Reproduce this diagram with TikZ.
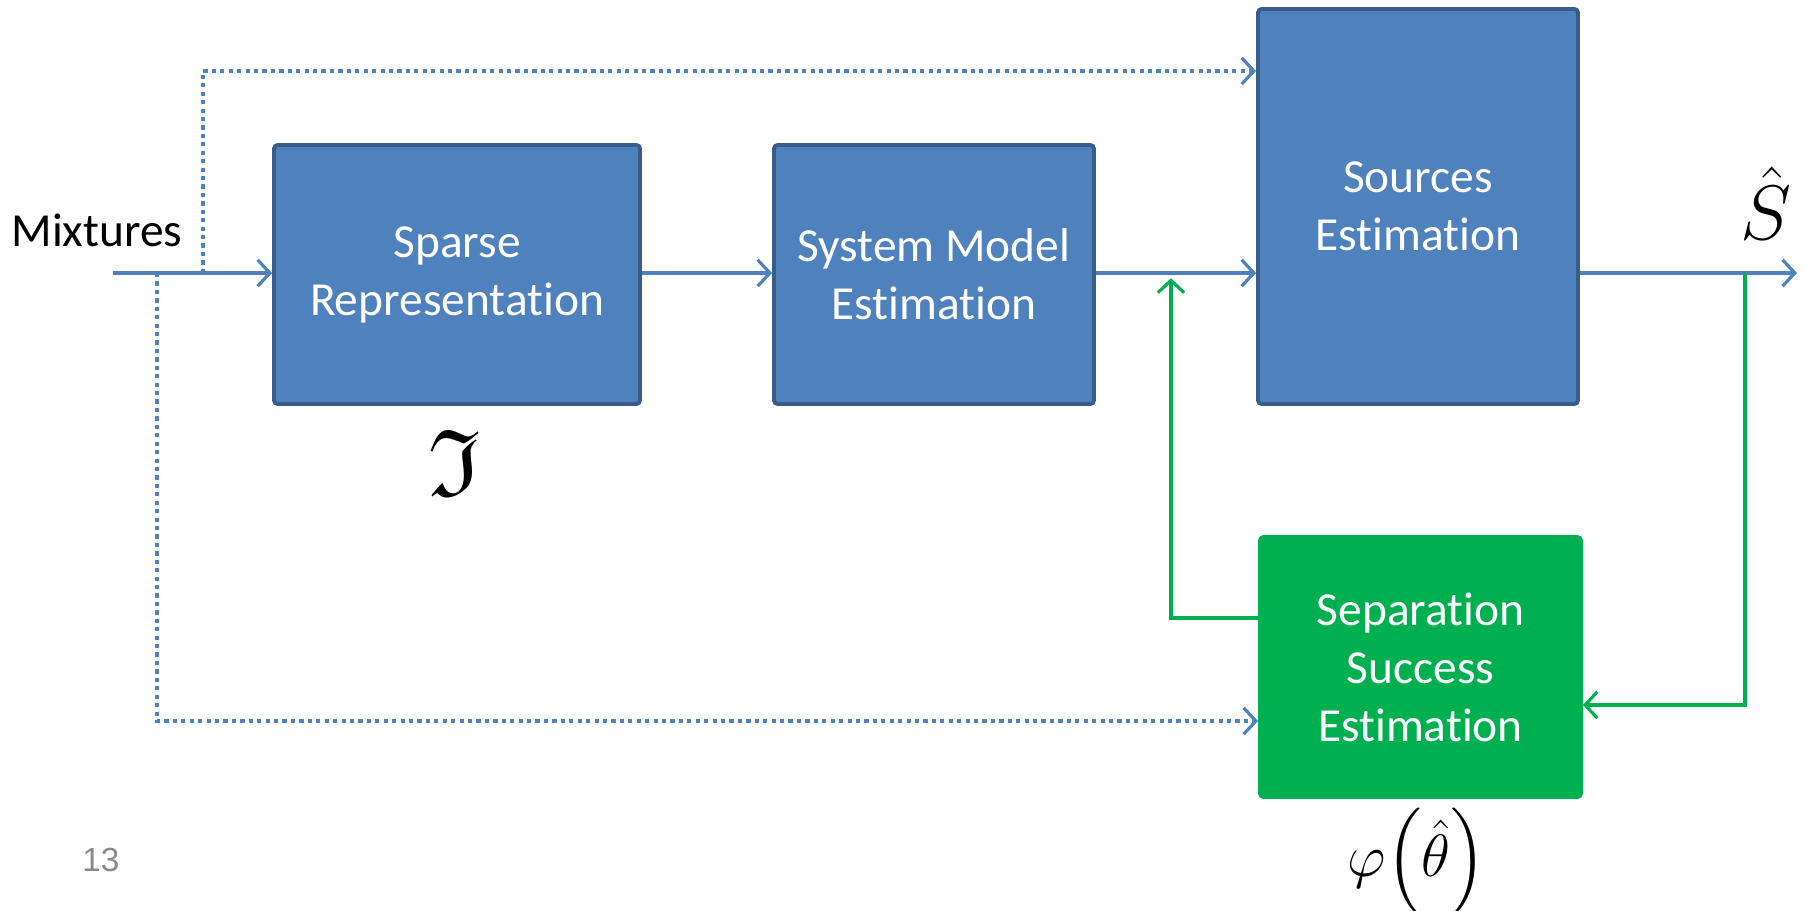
\documentclass[tikz,border=0pt]{standalone}
\usepackage{amsmath,amssymb}
\usepackage{anyfontsize}
\usepackage{fontspec}
\setmainfont{Carlito}[Ligatures=NoCommon]
\newfontfamily\pagefont{Liberation Sans}
\usetikzlibrary{arrows.meta}
\definecolor{boxblue}{RGB}{79,129,189}
\definecolor{boxblueedge}{RGB}{56,93,138}
\definecolor{boxgreen}{RGB}{0,176,80}
\definecolor{pagegray}{RGB}{137,137,137}

\begin{document}
\begin{tikzpicture}[x=0.02cm,y=-0.02cm,
    block/.style={
        draw=boxblueedge,
        fill=boxblue,
        line width=2.2pt,
        rounded corners=2pt,
        inner sep=0pt,
        text=white,
        align=center,
        font=\fontsize{27}{33}\selectfont
    },
    flow/.style={draw=boxblue, line width=1.8pt, -{Straight Barb[length=7pt,width=15pt,line width=1.8pt]}},
    dotflow/.style={flow, dash pattern=on 2.4pt off 2.4pt},
    fbflow/.style={flow, draw=boxgreen}
]
    \useasboundingbox (0,0) rectangle (1806,911);

    % blocks
    \node[block, minimum width=7.32cm, minimum height=5.18cm] (sparse) at (457,274.5) {Sparse\\Representation};
    \node[block, minimum width=6.4cm, minimum height=5.18cm] (sysm) at (934,274.5) {System Model\\Estimation};
    \node[block, minimum width=6.4cm, minimum height=7.9cm] (src) at (1418,206.5) {Sources\\Estimation};
    \node[block, draw=boxgreen, fill=boxgreen, minimum width=6.42cm, minimum height=5.2cm] (ssucc) at (1420.5,667) {Separation\\Success\\Estimation};

    % labels
    \node[font=\fontsize{27}{33}\selectfont] (mix) at (97,230) {Mixtures};
    \node[font=\fontsize{44}{50}\selectfont] (shat) at (1766,203) {$\hat{S}$};
    \node[font=\fontsize{54}{60}\selectfont] (frak) at (455,463) {$\mathfrak{I}$};
    \node[font=\fontsize{34}{40}\selectfont] (phi) at (1417,862) {$\varphi\mkern-3mu\left(\hat{\theta}\right)$};
    \node[font=\pagefont\fontsize{19}{22}\selectfont, text=pagegray] (pg) at (101,860) {13};

    % connectors
    \coordinate (in) at (113,273);
    \coordinate (b1) at (203,273);
    \coordinate (b2) at (157,273);
    \coordinate (fb) at (1171,273);
    \coordinate (tap) at (1745,273);
    \coordinate (out) at (1797,273);

    \draw[flow] (in) -- (sparse.west |- in);
    \draw[flow] (sparse.east |- in) -- (sysm.west |- in);
    \draw[flow] (sysm.east |- in) -- (src.west |- in);
    \draw[flow] (src.east |- in) -- (out);
    \draw[dotflow] (b1) |- (src.west |- 0,71);
    \draw[dotflow] (b2) |- (ssucc.west |- 0,721);
    \draw[fbflow, shorten >=3pt] (ssucc.west |- 0,618) -| (fb);
    \draw[fbflow] (tap) |- (ssucc.east |- 0,705);
\end{tikzpicture}
\end{document}
